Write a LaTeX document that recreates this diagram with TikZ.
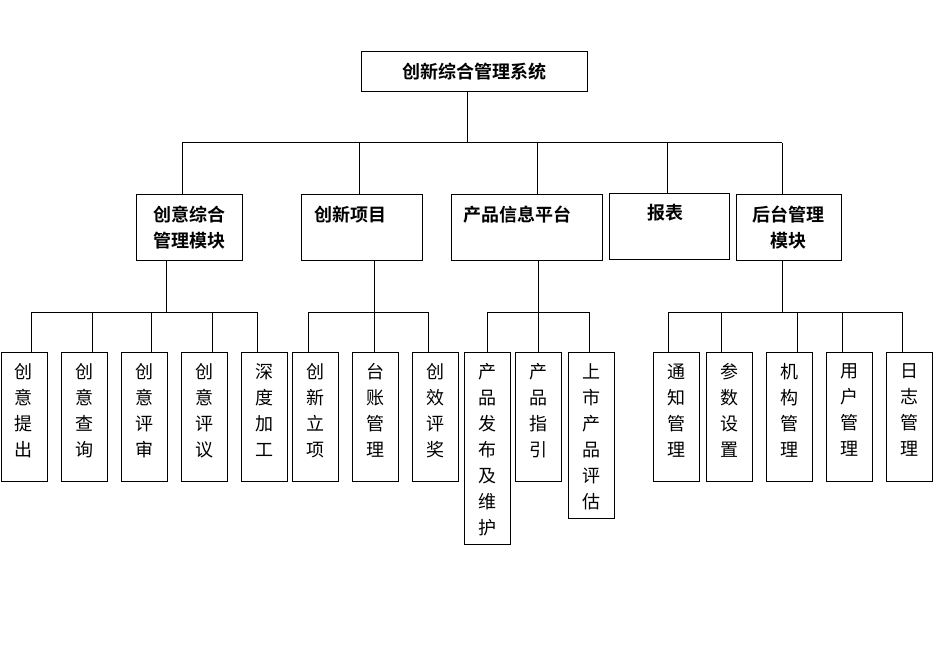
\documentclass[tikz,border=0pt]{standalone}
\usepackage{fontspec}
\newfontfamily\cjk{Noto Sans CJK SC}[BoldFont={Noto Sans CJK SC Bold}]
\begin{document}
\begin{tikzpicture}[x=1pt,y=-1pt,
  box/.style={draw, line width=1pt, inner sep=0pt, rectangle},
  head/.style={inner sep=0pt, align=center, font=\cjk\bfseries\fontsize{18}{26}\selectfont},
  leaf/.style={box, minimum width=46pt},
  vtxt/.style={anchor=north, inner sep=0pt, align=center, font=\cjk\fontsize{18}{26}\selectfont},
  conn/.style={line width=1pt}]
\path[use as bounding box] (0,0) rectangle (946,650);
% root
\node[box, minimum width=226pt, minimum height=40pt, head] (root) at (474,72) {创新综合管理系统};
% level 2
\node[box, minimum width=106pt, minimum height=65pt, head] (b1) at (189,227.5) {创意综合\\管理模块};
\node[box, minimum width=121pt, minimum height=65pt] (b2) at (361.5,227.5) {};
\node[head, anchor=west] (t2) at (314,215) {创新项目};
\node[box, minimum width=151pt, minimum height=65pt] (b3) at (526.5,227.5) {};
\node[head, anchor=west] (t3) at (463,215) {产品信息平台};
\node[box, minimum width=120pt, minimum height=65pt] (b4) at (669,226.5) {};
\node[head] (t4) at (665,213) {报表};
\node[box, minimum width=105pt, minimum height=65pt, head] (b5) at (788.5,227.5) {后台管理\\模块};
% leaves
\foreach \n/\x/\c/\h/\t in {
  a1/24/416.5/129/{创\\意\\提\\出},
  a2/84/416.5/129/{创\\意\\查\\询},
  a3/144/416.5/129/{创\\意\\评\\审},
  a4/204/416.5/129/{创\\意\\评\\议},
  a5/264/416.5/129/{深\\度\\加\\工},
  c1/315.5/416.5/129/{创\\新\\立\\项},
  c2/375.5/416.5/129/{台\\账\\管\\理},
  c3/435.5/416.5/129/{创\\效\\评\\奖},
  p1/487.5/448/192/{产\\品\\发\\布\\及\\维\\护},
  p2/538.5/416.5/129/{产\\品\\指\\引},
  p3/591.5/435/166/{上\\市\\产\\品\\评\\估},
  h1/676/416.5/129/{通\\知\\管\\理},
  h2/729/416.5/129/{参\\数\\设\\置},
  h3/789/416.5/129/{机\\构\\管\\理},
  h4/849/416.5/129/{用\\户\\管\\理},
  h5/909/416.5/129/{日\\志\\管\\理}} {
  \node[leaf, minimum height=\h pt] (\n) at (\x,\c) {};
  \node[vtxt] (\n t) at ([yshift=-12pt]\n.north) {\t};
}
% level 1 connectors
\coordinate (j0) at (467,143);
\draw[conn] (root.south -| j0) -- (j0);
\coordinate (busL) at (182,143);
\coordinate (busR) at (782,143);
\draw[conn] (busL) -- (busR);
\foreach \n/\x in {b1/182,b2/359,b3/537,b4/667,b5/782} {
  \coordinate (d) at (\x,143);
  \draw[conn] (d) -- (d |- \n.north);
}
% level 2 connectors
\foreach \p/\px/\l/\r/\list in {
  b1/166/31/257/{a1/31,a2/92,a3/151,a4/212,a5/257},
  b2/374/308/428/{c1/308,c2/374,c3/428},
  b3/538/487/589/{p1/487,p2/538,p3/589},
  b5/782/668/902/{h1/668,h2/721,h3/797,h4/842,h5/902}} {
  \coordinate (jp) at (\px,312);
  \draw[conn] (\p.south -| jp) -- (jp);
  \coordinate (bl) at (\l,312);
  \coordinate (br) at (\r,312);
  \draw[conn] (bl) -- (br);
  \foreach \n/\x in \list {
    \coordinate (dd) at (\x,312);
    \draw[conn] (dd) -- (dd |- \n.north);
  }
}
\end{tikzpicture}
\end{document}
